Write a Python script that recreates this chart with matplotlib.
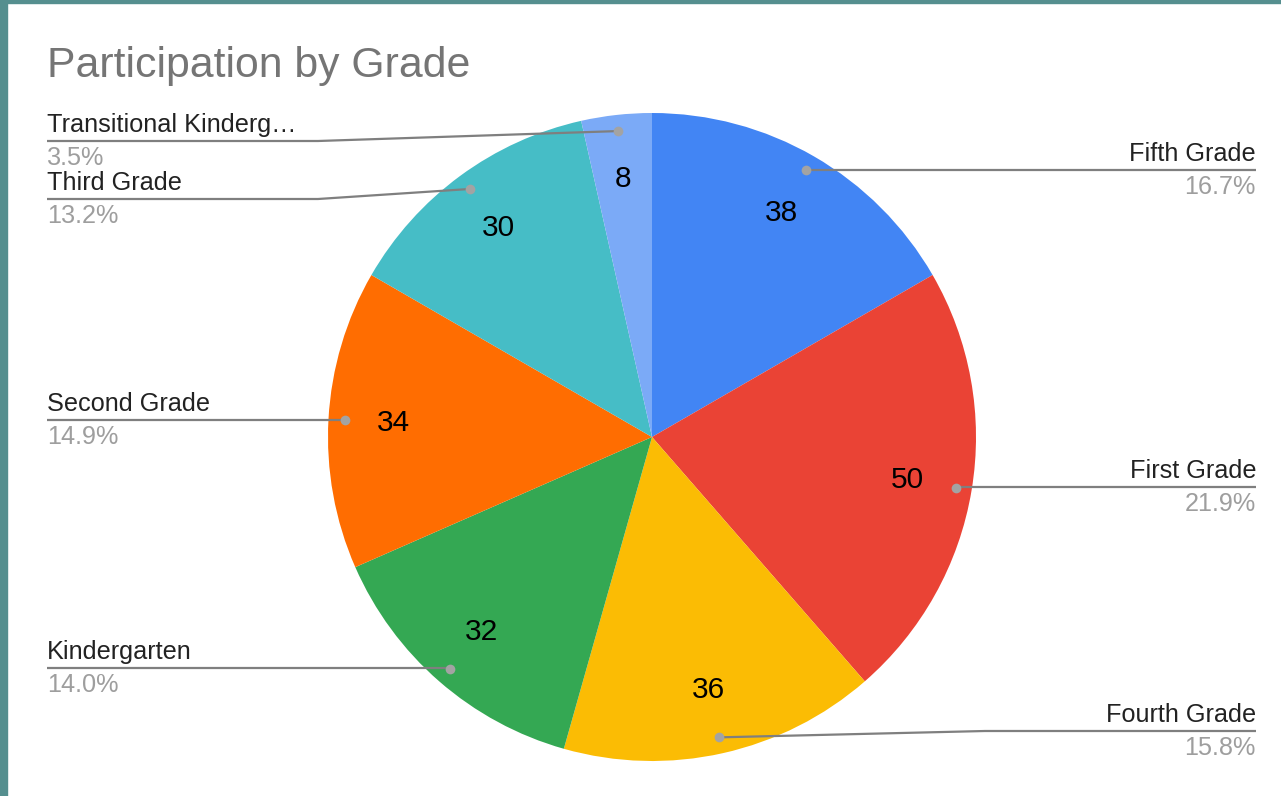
import numpy as np
import matplotlib
matplotlib.use("Agg")
import matplotlib.pyplot as plt
from matplotlib.patches import Rectangle

# ---- data ----
categories = ["Fifth Grade", "First Grade", "Fourth Grade", "Kindergarten",
              "Second Grade", "Third Grade", "Transitional Kinderg\u2026"]
values = [38, 50, 36, 32, 34, 30, 8]
colors = ["#4285F4", "#EA4335", "#FBBC04", "#34A853", "#FF6D01", "#46BDC6", "#7BAAF7"]
title = "Participation by Grade"

# ---- layout (pixel space, y measured from top) ----
W, H = 1281, 796
cx, cy, R = 652, 437, 324
side = ["right", "right", "right", "left", "left", "left", "left"]
line_y = [170, 487, 731, 668, 420, 199, 141]
elbow_x = [None, None, 985, None, None, 318, 318]

plt.rcParams['font.family'] = ['Liberation Sans', 'DejaVu Sans']

fig = plt.figure(figsize=(W / 100, H / 100), dpi=100)
ax = fig.add_axes([0, 0, 1, 1])

def Y(y):
    return H - y

total = sum(values)
wedges, _, autotexts = ax.pie(
    values, colors=colors, startangle=90, counterclock=False,
    center=(cx, Y(cy)), radius=R, pctdistance=0.80,
    autopct=lambda p: f"{int(round(p * total / 100))}",
    textprops=dict(fontsize=21.5, color="#000000"),
    wedgeprops=dict(linewidth=0), frame=True)
ax.set_xlim(0, W)
ax.set_ylim(0, H)
ax.set_aspect('equal')
ax.axis('off')

for i, w in enumerate(wedges):
    mid = np.deg2rad((w.theta1 + w.theta2) / 2)
    dx = cx + 0.95 * R * np.cos(mid)
    dy = Y(cy) + 0.95 * R * np.sin(mid)
    ly = Y(line_y[i])
    end_x = 1256 if side[i] == "right" else 47
    if elbow_x[i] is None:
        xs = [dx, end_x]
        ys = [dy, ly] if abs(dy - ly) > 3 else [ly, ly]
    else:
        xs, ys = [dx, elbow_x[i], end_x], [dy, ly, ly]
    ax.plot(xs, ys, color="#7f7f7f", lw=1.6, solid_capstyle='butt', zorder=3)
    ax.plot([dx], [dy], 'o', ms=7, color="#a3a3a3", mec='none', zorder=4)
    ha = "right" if side[i] == "right" else "left"
    pct = values[i] / total * 100
    ax.text(end_x, ly + 9, categories[i], ha=ha, va='baseline',
            fontsize=18.2, color="#222222")
    ax.text(end_x, ly - 24, f"{pct:.1f}%", ha=ha, va='baseline',
            fontsize=18.2, color="#9e9e9e")

fig.text(47 / W, 1 - 77 / H, title, ha='left', va='baseline',
         fontsize=30.8, color="#757575")

# frame
border = "#558f8f"
fig.patches.append(Rectangle((0, 0), 7 / W, 1, transform=fig.transFigure,
                             color=border, zorder=10))
fig.patches.append(Rectangle((0, 1 - 3 / H), 1, 3 / H, transform=fig.transFigure,
                             color=border, zorder=10))

fig.savefig("out.png", dpi=100, facecolor="white")
